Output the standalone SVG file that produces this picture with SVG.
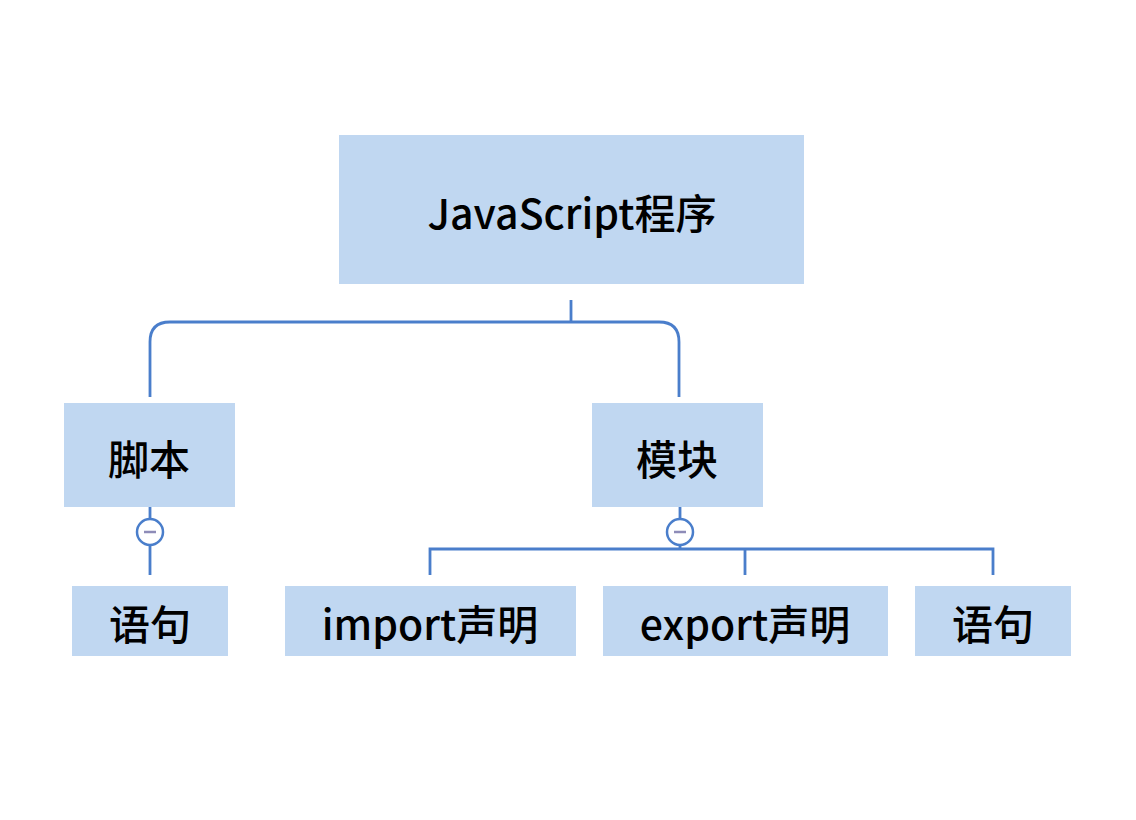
<svg xmlns="http://www.w3.org/2000/svg" width="1136" height="820" viewBox="0 0 1136 820">
<style>
.box{fill:#c0d7f1;}
.lbl{font-family:"Noto Sans CJK SC","Noto Sans",sans-serif;font-size:41px;font-weight:500;fill:#000;text-anchor:middle;dominant-baseline:central;}
.ln{fill:none;stroke:#4a7ecb;stroke-width:2.8;}
.tog{fill:#fff;stroke:#4a7ecb;stroke-width:2.5;}
.minus{stroke:#8e8cb8;stroke-width:2.5;}
</style>
<rect width="1136" height="820" fill="#fff"/>
<g id="connectors">
<path class="ln" d="M571 300V322"/>
<path class="ln" d="M150 397V342Q150 322 170 322H659Q679 322 679 342V397"/>
<path class="ln" d="M150 507V518M150 546V575"/>
<path class="ln" d="M680 507V518M680 546V549"/>
<path class="ln" d="M430 575V549H993V575M745 549V575"/>
<circle class="tog" cx="150" cy="532" r="13"/>
<line class="minus" x1="144" y1="532" x2="156" y2="532"/>
<circle class="tog" cx="680" cy="532" r="13"/>
<line class="minus" x1="674" y1="532" x2="686" y2="532"/>
</g>
<g id="root"><rect class="box" x="339" y="135" width="465" height="149"/><text class="lbl" x="572" y="211">JavaScript程序</text></g>
<g id="script"><rect class="box" x="64" y="403" width="171" height="104"/><text class="lbl" x="149" y="457">脚本</text></g>
<g id="module"><rect class="box" x="592" y="403" width="171" height="104"/><text class="lbl" x="677" y="457">模块</text></g>
<g id="stmt1"><rect class="box" x="72" y="586" width="156" height="70"/><text class="lbl" x="150" y="622">语句</text></g>
<g id="import"><rect class="box" x="285" y="586" width="291" height="70"/><text class="lbl" x="430" y="622">import声明</text></g>
<g id="export"><rect class="box" x="603" y="586" width="285" height="70"/><text class="lbl" x="745" y="622">export声明</text></g>
<g id="stmt2"><rect class="box" x="915" y="586" width="156" height="70"/><text class="lbl" x="993" y="622">语句</text></g>
</svg>
